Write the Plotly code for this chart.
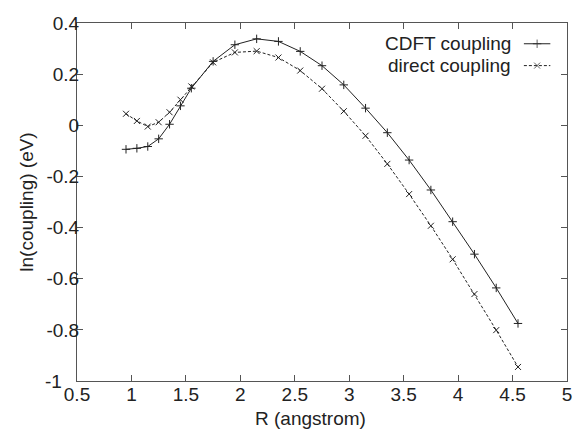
import plotly.graph_objects as go

# Separation R (angstrom) and ln(coupling) in eV for each method
r_values = [0.95, 1.05, 1.15, 1.25, 1.35, 1.45, 1.55, 1.75, 1.95, 2.15, 2.35,
            2.55, 2.75, 2.95, 3.15, 3.35, 3.55, 3.75, 3.95, 4.15, 4.35, 4.55]
cdft_coupling = [-0.094, -0.090, -0.083, -0.053, 0.004, 0.076, 0.145, 0.250,
                 0.315, 0.338, 0.328, 0.289, 0.233, 0.158, 0.067, -0.029,
                 -0.136, -0.253, -0.377, -0.504, -0.636, -0.775]
direct_coupling = [0.045, 0.017, -0.005, 0.012, 0.051, 0.100, 0.152, 0.246,
                   0.285, 0.290, 0.265, 0.214, 0.143, 0.055, -0.041, -0.151,
                   -0.269, -0.393, -0.524, -0.660, -0.801, -0.945]

x_ticks = [0.5, 1, 1.5, 2, 2.5, 3, 3.5, 4, 4.5, 5]
x_tick_labels = ["0.5", "1", "1.5", "2", "2.5", "3", "3.5", "4", "4.5", "5"]
y_ticks = [-1, -0.8, -0.6, -0.4, -0.2, 0, 0.2, 0.4]
y_tick_labels = ["-1", "-0.8", "-0.6", "-0.4", "-0.2", "0", "0.2", "0.4"]

series_names = ["CDFT coupling", "direct coupling"]

ink = "#222222"
frame = "#555555"
font = dict(family="Liberation Sans, Arial, sans-serif", size=19, color=ink)

fig = go.Figure()

fig.add_trace(go.Scatter(
    x=r_values, y=cdft_coupling, mode="lines+markers", name=series_names[0],
    line=dict(color=ink, width=1),
    marker=dict(symbol="cross-thin", size=6, line=dict(color=ink, width=1)),
    showlegend=False,
))
fig.add_trace(go.Scatter(
    x=r_values, y=direct_coupling, mode="lines+markers", name=series_names[1],
    line=dict(color=ink, width=1, dash="3px,2px"),
    marker=dict(symbol="x-thin", size=6, line=dict(color=ink, width=1)),
    showlegend=False,
))

# Key: label text on the left, line sample on the right
key_y = [0.942, 0.881]
key_dash = ["solid", "3px,2px"]
key_symbol = ["cross-thin", "x-thin"]
for name, ky, dash, sym in zip(series_names, key_y, key_dash, key_symbol):
    fig.add_trace(go.Scatter(
        x=[0.912, 0.939, 0.966],
        y=[ky, ky, ky], xaxis="x2", yaxis="y2",
        mode="lines+markers",
        line=dict(color=ink, width=1, dash=dash),
        marker=dict(symbol=sym, size=[0, 6, 0], line=dict(color=ink, width=1)),
        showlegend=False, hoverinfo="skip",
    ))
    fig.add_annotation(
        x=0.890, y=ky, xref="x2", yref="y2", text=name, showarrow=False,
        xanchor="right", yanchor="middle", font=font,
    )

# Bottom y label sits a little left so it clears the first x label
y_labels_drawn = [""] + y_tick_labels[1:]
fig.add_annotation(
    x=-0.029, y=y_ticks[0], xref="paper", yref="y", text=y_tick_labels[0],
    showarrow=False, xanchor="right", yanchor="middle", font=font,
    borderpad=0,
)

# x-axis title
fig.add_annotation(
    x=0.476, y=-0.104, xref="paper", yref="paper", text="R (angstrom)",
    showarrow=False, xanchor="center", yanchor="middle", font=font,
)

axis_common = dict(
    showgrid=False, zeroline=False, showline=True, linecolor=frame,
    linewidth=1, mirror="ticks", ticks="inside", ticklen=6,
    tickcolor=frame, tickfont=font, ticklabeloverflow="allow",
)

fig.update_layout(
    width=576, height=429,
    margin=dict(l=77, r=4, t=23, b=48),
    paper_bgcolor="white", plot_bgcolor="white",
    font=font,
    xaxis=dict(range=[0.5, 5], tickvals=x_ticks, ticktext=x_tick_labels,
               ticklabelstandoff=-4, **axis_common),
    yaxis=dict(range=[-1, 0.4], tickvals=y_ticks, ticktext=y_labels_drawn,
               title=dict(text="ln(coupling) (eV)", font=font, standoff=7),
               ticklabelstandoff=-7, **axis_common),
    xaxis2=dict(domain=[0, 1], range=[0, 1], overlaying="x", visible=False,
                anchor="y2"),
    yaxis2=dict(domain=[0, 1], range=[0, 1], overlaying="y", visible=False,
                anchor="x2"),
)

fig.write_html("out.html")
